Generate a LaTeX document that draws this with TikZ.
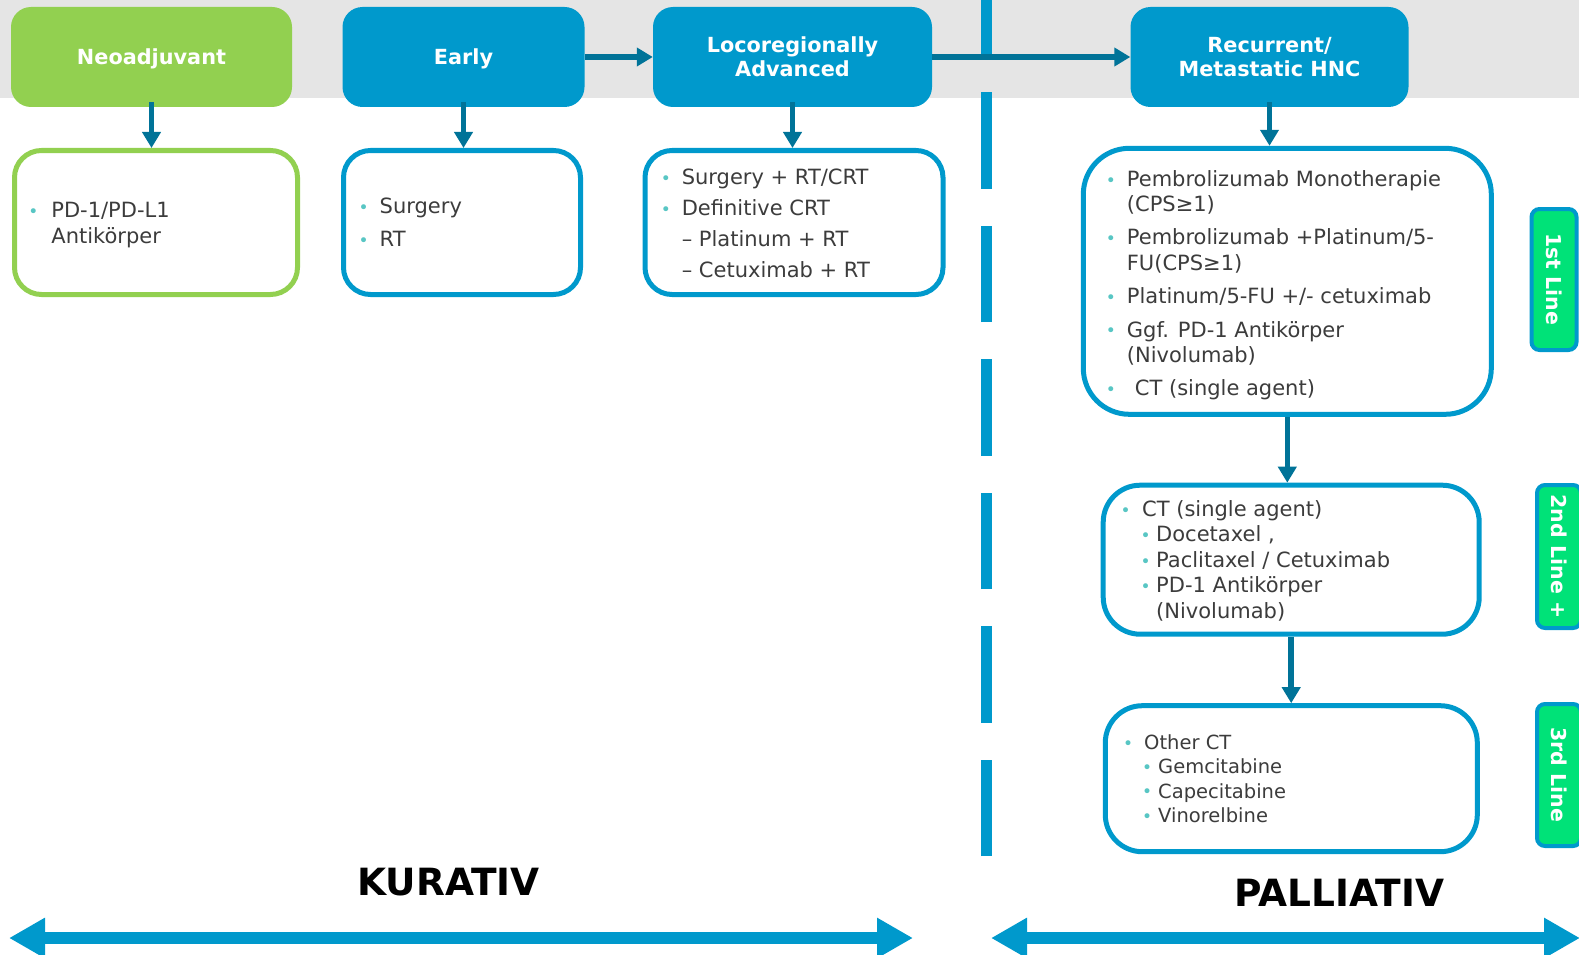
\documentclass[tikz,border=0pt]{standalone}
\usepackage{fontspec}
\setmainfont{DejaVu Sans}
\usetikzlibrary{arrows.meta}

\definecolor{hdrblue}{RGB}{0,153,204}
\definecolor{arrowteal}{RGB}{0,115,152}
\definecolor{neogreen}{RGB}{146,208,80}
\definecolor{tabgreen}{RGB}{0,226,120}
\definecolor{bandgrey}{RGB}{229,229,229}
\definecolor{txtgrey}{RGB}{60,60,60}
\definecolor{bul}{RGB}{88,198,196}

% small teal list bullet, centred on the current point
\newcommand\bdot{\makebox[0pt]{\raisebox{0.2pt}{\color{bul}\fontsize{17}{17}\selectfont •}}}

\begin{document}
\begin{tikzpicture}[x=1pt,y=-1pt,
  hdrbox/.style={fill=hdrblue, rounded corners=20pt, text=white,
    font=\bfseries\fontsize{20.8}{24}\selectfont, align=center, inner sep=0pt,
    minimum height=100pt},
  oneline/.style={text height=15.2pt, text depth=0pt},
  cardbox/.style={draw=hdrblue, line width=5pt, fill=white, rounded corners=27pt, inner sep=0pt},
  itemtext/.style={anchor=base west, inner sep=0pt, text=txtgrey},
  flowarrow/.style={draw=arrowteal, line width=5.5pt, -{Triangle[length=16pt,width=18pt]}},
  sidetab/.style={draw=hdrblue, line width=4pt, fill=tabgreen, rounded corners=8pt,
    rotate=-90, text=white, font=\bfseries\fontsize{20.5}{24}\selectfont, inner sep=0pt},
  spanarrow/.style={draw=hdrblue, line width=12pt,
    {Triangle[length=36pt,width=38pt]}-{Triangle[length=36pt,width=38pt]}},
  phaselabel/.style={font=\bfseries\fontsize{37.5}{40}\selectfont, text=black, inner sep=0pt}
]
\useasboundingbox (0,0) rectangle (1579,955);
\clip (0,0) rectangle (1579,955);

% grey header band
\fill[bandgrey] (0,0) rectangle (1579,98.5);

% dashed divider between curative and palliative sides
\draw[hdrblue, line width=11pt, dash pattern=on 96.5pt off 37pt] (986,856) -- (986,-60);

% stage headers
\node[hdrbox, oneline, fill=neogreen, minimum width=281pt] (neo) at (151.5,57) {Neoadjuvant};
\node[hdrbox, oneline, minimum width=242pt] (early) at (463.5,57) {Early};
\node[hdrbox, minimum width=279pt] (loco) at (792.5,57) {Locoregionally\\Advanced};
\node[hdrbox, minimum width=278pt] (rm) at (1269.5,57) {Recurrent/\\Metastatic HNC};

% treatment cards
\node[cardbox, draw=neogreen, minimum width=283pt, minimum height=144pt] (neocard) at (156,222.5) {};
\node[cardbox, minimum width=237pt, minimum height=144pt] (earlycard) at (462,222.5) {};
\node[cardbox, minimum width=298pt, minimum height=144pt] (lococard) at (794,222.5) {};
\node[cardbox, rounded corners=46pt, minimum width=408pt, minimum height=266pt] (first) at (1287.3,281.3) {};
\node[cardbox, rounded corners=37pt, minimum width=376pt, minimum height=149pt] (second) at (1291.2,559.7) {};
\node[cardbox, rounded corners=37pt, minimum width=372pt, minimum height=146pt] (third) at (1291.3,778.7) {};

% card contents
\node[itemtext, font=\fontsize{21}{26.1}\selectfont] (neotext) at (33.2,217.5)
  {\begin{tabular}[t]{@{}l@{\hspace{18pt}}l@{}}
   \bdot & PD-1/PD-L1\\
         & Antikörper
   \end{tabular}};
\node[itemtext, font=\fontsize{21}{33.3}\selectfont] (earlytext) at (363.5,213.4)
  {\begin{tabular}[t]{@{}l@{\hspace{16pt}}l@{}}
   \bdot & Surgery\\
   \bdot & RT
   \end{tabular}};
\node[itemtext, font=\fontsize{21}{31.2}\selectfont] (locotext) at (665.6,184.2)
  {\begin{tabular}[t]{@{}l@{\hspace{16pt}}l@{}}
   \bdot & Surgery + RT/CRT\\
   \bdot & Definitive CRT\\
         & – Platinum + RT\\
         & – Cetuximab + RT
   \end{tabular}};
\node[itemtext, font=\fontsize{21}{25.2}\selectfont] (firsttext) at (1110.7,186.2)
  {\begin{tabular}[t]{@{}l@{\hspace{16pt}}l@{}}
   \bdot & Pembrolizumab Monotherapie\\
         & (CPS≥1)\\[8.3pt]
   \bdot & Pembrolizumab +Platinum/5-\\
         & FU(CPS≥1)\\[8.3pt]
   \bdot & Platinum/5-FU +/- cetuximab\\[8.3pt]
   \bdot & Ggf. PD-1 Antikörper\\
         & (Nivolumab)\\[8.3pt]
   \bdot & \hspace{8pt}CT (single agent)
   \end{tabular}};
\node[itemtext, font=\fontsize{21}{25.4}\selectfont] (secondtext) at (1125.5,516.5)
  {\begin{tabular}[t]{@{}l@{\hspace{16.5pt}}l@{}}
   \bdot & CT (single agent)\\
         & \hspace{3.5pt}\bdot\hspace{10.5pt}Docetaxel ,\\
         & \hspace{3.5pt}\bdot\hspace{10.5pt}Paclitaxel / Cetuximab\\
         & \hspace{3.5pt}\bdot\hspace{10.5pt}PD-1 Antikörper\\
         & \hspace{14pt}(Nivolumab)
   \end{tabular}};
\node[itemtext, font=\fontsize{19.5}{24.2}\selectfont] (thirdtext) at (1127.8,749.7)
  {\begin{tabular}[t]{@{}l@{\hspace{16.2pt}}l@{}}
   \bdot & Other CT\\
         & \hspace{3pt}\bdot\hspace{11pt}Gemcitabine\\
         & \hspace{3pt}\bdot\hspace{11pt}Capecitabine\\
         & \hspace{3pt}\bdot\hspace{11pt}Vinorelbine
   \end{tabular}};

% line-of-therapy tabs
\node[sidetab, minimum width=141pt, minimum height=45pt] (tabone) at (1554,279.5) {1st Line};
\node[sidetab, minimum width=143pt, minimum height=44pt] (tabtwo) at (1559,556.5) {2nd Line +};
\node[sidetab, minimum width=142pt, minimum height=44pt] (tabthree) at (1559,775) {3rd Line};

% flow arrows
\draw[flowarrow] ([yshift=5pt]neo.south) -- (neo.south |- neocard.north);
\draw[flowarrow] ([yshift=5pt]early.south) -- (early.south |- earlycard.north);
\draw[flowarrow] ([yshift=5pt]loco.south) -- (loco.south |- lococard.north);
\draw[flowarrow] ([yshift=5pt]rm.south) -- (rm.south |- first.north);
\draw[flowarrow] (early.east) -- (loco.west);
\draw[flowarrow] (loco.east) -- (rm.west);
\draw[flowarrow] (first.south) -- (first.south |- second.north);
\draw[flowarrow] (second.south) -- (second.south |- third.north);

% curative / palliative spans
\node[phaselabel] (kur) at (448.5,882.5) {KURATIV};
\node[phaselabel] (pal) at (1339.5,892.5) {PALLIATIV};
\coordinate (kA) at (9,938);
\coordinate (kB) at (913,938);
\coordinate (pA) at (991,938);
\coordinate (pB) at (1580,938);
\draw[spanarrow] (kA) -- (kB);
\draw[spanarrow] (pA) -- (pB);
\end{tikzpicture}
\end{document}
